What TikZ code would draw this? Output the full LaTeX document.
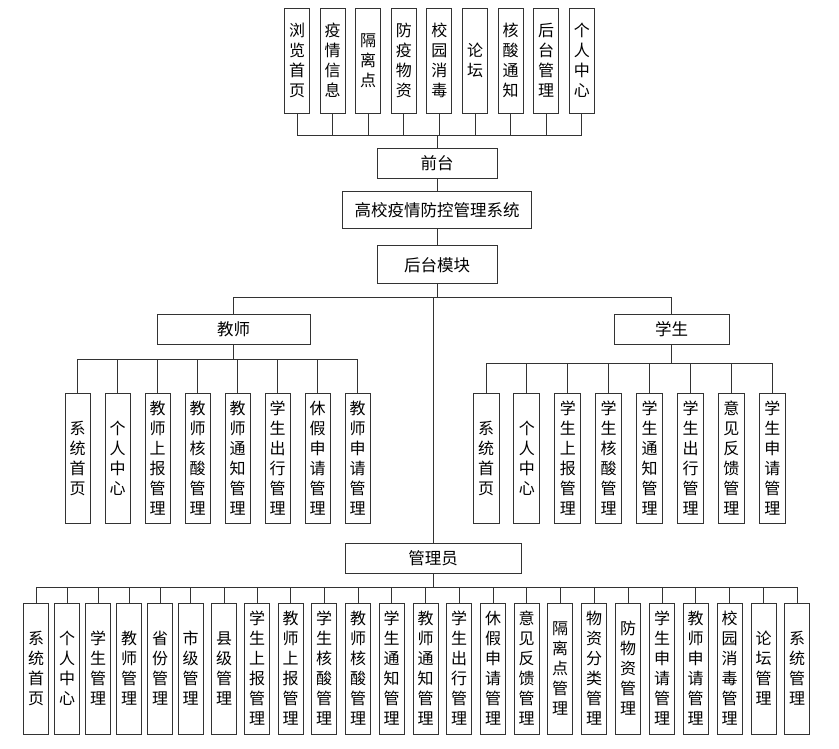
\documentclass[tikz,border=0pt]{standalone}
\usepackage{fontspec}
\setmainfont{Noto Sans CJK SC}
\usetikzlibrary{positioning}

\tikzset{
  box/.style={draw=black!80, line width=0.9pt, inner sep=0pt},
  vbox/.style={box, minimum width=25pt, align=center, font=\fontsize{16}{20}\selectfont},
  hbox/.style={box, minimum height=30pt, font=\fontsize{16.5}{20}\selectfont},
  wire/.style={draw=black!80, line width=0.9pt},
  elbow/.style={to path={(\tikztostart) -- (\tikztostart |- #1) -| (\tikztotarget)}},
}

\begin{document}
\begin{tikzpicture}[x=1pt,y=-1pt]
  \useasboundingbox (0,0) rectangle (839,749);

  % front end
  \foreach \txt [count=\i] in {浏\\览\\首\\页, 疫\\情\\信\\息, 隔\\离\\点, 防\\疫\\物\\资,
      校\\园\\消\\毒, 论\\坛, 核\\酸\\通\\知, 后\\台\\管\\理, 个\\人\\中\\心}
    \node[vbox, minimum height=105pt] (f\i) at (261.4+35.6*\i, 60.5) {\txt};

  \node[hbox, minimum width=120pt]                     (front) at (437,163) {前台};
  \node[hbox, minimum width=189pt, minimum height=37pt] (sys)   [below=13pt of front] {高校疫情防控管理系统};
  \node[hbox, minimum width=120pt, minimum height=38pt] (back)  [below=16pt of sys]   {后台模块};

  % back end roles
  \node[hbox, minimum width=153pt] (teacher) at (233.5,329) {教师};
  \node[hbox, minimum width=115pt] (student) at (671.5,329) {学生};
  \node[hbox, minimum width=176pt] (admin)   at (433,558)   {管理员};

  \foreach \txt [count=\i] in {系\\统\\首\\页, 个\\人\\中\\心, 教\\师\\上\\报\\管\\理, 教\\师\\核\\酸\\管\\理,
      教\\师\\通\\知\\管\\理, 学\\生\\出\\行\\管\\理, 休\\假\\申\\请\\管\\理, 教\\师\\申\\请\\管\\理}
    \node[vbox, minimum height=130pt] (t\i) at (37.5+40*\i, 458) {\txt};

  \foreach \txt [count=\i] in {系\\统\\首\\页, 个\\人\\中\\心, 学\\生\\上\\报\\管\\理, 学\\生\\核\\酸\\管\\理,
      学\\生\\通\\知\\管\\理, 学\\生\\出\\行\\管\\理, 意\\见\\反\\馈\\管\\理, 学\\生\\申\\请\\管\\理}
    \node[vbox, minimum width=26pt, minimum height=130pt] (s\i) at (445.1+40.9*\i, 458) {\txt};

  \foreach \x/\txt [count=\i] in {36/系\\统\\首\\页, 67/个\\人\\中\\心, 98/学\\生\\管\\理, 129/教\\师\\管\\理,
      160/省\\份\\管\\理, 190.5/市\\级\\管\\理, 224/县\\级\\管\\理, 257/学\\生\\上\\报\\管\\理,
      290.5/教\\师\\上\\报\\管\\理, 324/学\\生\\核\\酸\\管\\理, 358/教\\师\\核\\酸\\管\\理,
      391.5/学\\生\\通\\知\\管\\理, 425.5/教\\师\\通\\知\\管\\理, 459/学\\生\\出\\行\\管\\理,
      493/休\\假\\申\\请\\管\\理, 526.5/意\\见\\反\\馈\\管\\理, 560/隔\\离\\点\\管\\理,
      594/物\\资\\分\\类\\管\\理, 628/防\\物\\资\\管\\理, 662/学\\生\\申\\请\\管\\理,
      695.5/教\\师\\申\\请\\管\\理, 729.5/校\\园\\消\\毒\\管\\理, 763.5/论\\坛\\管\\理, 797/系\\统\\管\\理}
    \node[vbox, minimum height=131pt] (a\i) at (\x, 668.5) {\txt};

  % buses
  \coordinate (topbus)  at (0,135);
  \coordinate (mainbus) at (0,297);
  \coordinate (tbus)    at (0,359);
  \coordinate (sbus)    at (0,363);
  \coordinate (abus)    at (0,587);

  \path[wire] (front) edge (sys)
              (sys)   edge (back);
  \foreach \i in {1,...,9}
    \path[wire] (front) edge[elbow=topbus] (f\i);
  \path[wire] (back) edge[elbow=mainbus] (teacher)
                     edge[elbow=mainbus] (student)
                     edge[elbow=mainbus] (admin);
  \foreach \i in {1,...,8} {
    \path[wire] (teacher) edge[elbow=tbus] (t\i);
    \path[wire] (student) edge[elbow=sbus] (s\i);
  }
  \foreach \i in {1,...,24}
    \path[wire] (admin) edge[elbow=abus] (a\i);
\end{tikzpicture}
\end{document}
